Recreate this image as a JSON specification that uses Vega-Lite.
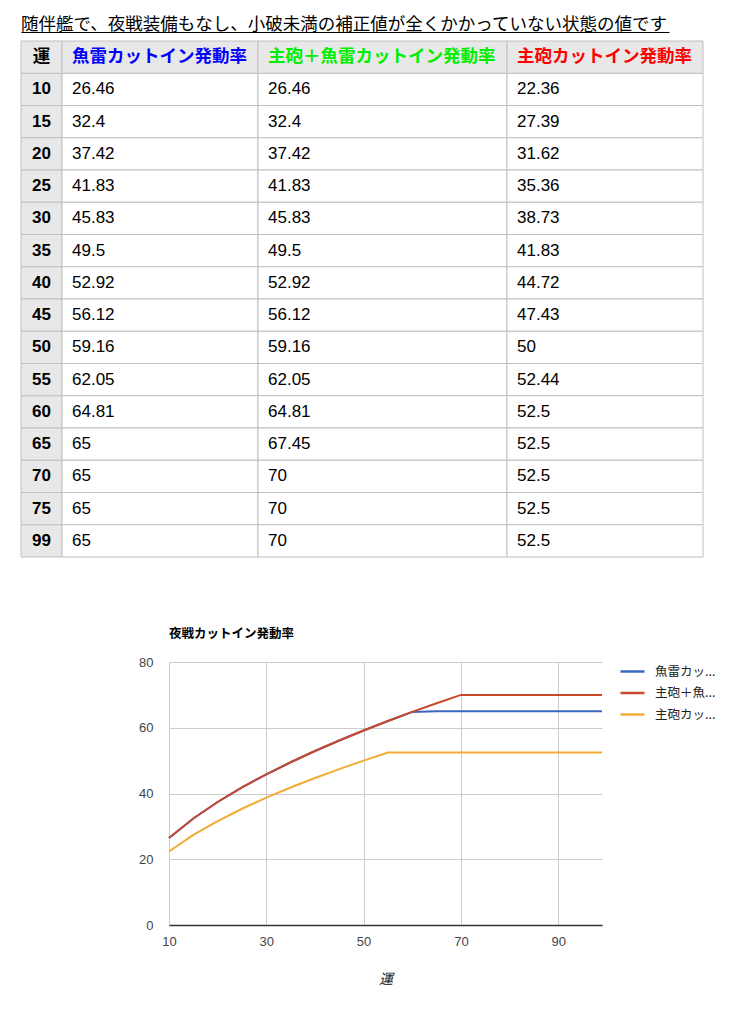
{
  "$schema": "https://vega.github.io/schema/vega-lite/v6.json",
  "background": "white",
  "padding": {"left": 20, "top": 12, "right": 0, "bottom": 0},
  "config": {"view": {"stroke": null}},
  "datasets": {
    "rates": [
      {"運": 10, "魚雷カットイン発動率": 26.46, "主砲＋魚雷カットイン発動率": 26.46, "主砲カットイン発動率": 22.36},
      {"運": 15, "魚雷カットイン発動率": 32.4, "主砲＋魚雷カットイン発動率": 32.4, "主砲カットイン発動率": 27.39},
      {"運": 20, "魚雷カットイン発動率": 37.42, "主砲＋魚雷カットイン発動率": 37.42, "主砲カットイン発動率": 31.62},
      {"運": 25, "魚雷カットイン発動率": 41.83, "主砲＋魚雷カットイン発動率": 41.83, "主砲カットイン発動率": 35.36},
      {"運": 30, "魚雷カットイン発動率": 45.83, "主砲＋魚雷カットイン発動率": 45.83, "主砲カットイン発動率": 38.73},
      {"運": 35, "魚雷カットイン発動率": 49.5, "主砲＋魚雷カットイン発動率": 49.5, "主砲カットイン発動率": 41.83},
      {"運": 40, "魚雷カットイン発動率": 52.92, "主砲＋魚雷カットイン発動率": 52.92, "主砲カットイン発動率": 44.72},
      {"運": 45, "魚雷カットイン発動率": 56.12, "主砲＋魚雷カットイン発動率": 56.12, "主砲カットイン発動率": 47.43},
      {"運": 50, "魚雷カットイン発動率": 59.16, "主砲＋魚雷カットイン発動率": 59.16, "主砲カットイン発動率": 50},
      {"運": 55, "魚雷カットイン発動率": 62.05, "主砲＋魚雷カットイン発動率": 62.05, "主砲カットイン発動率": 52.44},
      {"運": 60, "魚雷カットイン発動率": 64.81, "主砲＋魚雷カットイン発動率": 64.81, "主砲カットイン発動率": 52.5},
      {"運": 65, "魚雷カットイン発動率": 65, "主砲＋魚雷カットイン発動率": 67.45, "主砲カットイン発動率": 52.5},
      {"運": 70, "魚雷カットイン発動率": 65, "主砲＋魚雷カットイン発動率": 70, "主砲カットイン発動率": 52.5},
      {"運": 75, "魚雷カットイン発動率": 65, "主砲＋魚雷カットイン発動率": 70, "主砲カットイン発動率": 52.5},
      {"運": 99, "魚雷カットイン発動率": 65, "主砲＋魚雷カットイン発動率": 70, "主砲カットイン発動率": 52.5}
    ]
  },
  "spacing": 69,
  "resolve": {"scale": {"color": "independent"}, "legend": {"color": "independent"}},
  "vconcat": [
    {
      "spacing": 6,
      "vconcat": [
        {
          "width": 648,
          "height": 20,
          "data": {"values": [{"見出し": "随伴艦で、夜戦装備もなし、小破未満の補正値が全くかかっていない状態の値です"}]},
          "mark": {"type": "text", "align": "left", "baseline": "alphabetic", "dy": -2, "fontSize": 17.5, "font": "Noto Sans CJK JP", "color": "#000000"},
          "encoding": {
            "x": {"datum": 0, "type": "quantitative", "scale": {"domain": [0, 1]}, "axis": {"title": null, "labels": false, "ticks": false, "grid": false, "domainColor": "#000000", "domainWidth": 1}},
            "y": {"datum": 0, "type": "quantitative", "scale": {"domain": [0, 1]}, "axis": null},
            "text": {"field": "見出し", "type": "nominal"}
          }
        },
        {
          "spacing": 0,
          "bounds": "flush",
          "hconcat": [
            {
              "width": 41,
              "height": 516,
              "layer": [
                {"data": {"name": "rates"}, "mark": {"type": "rect", "fill": "#e8e8e8", "stroke": "#c0c0c0", "strokeWidth": 1},
                 "encoding": {"y": {"field": "運", "type": "ordinal", "scale": {"domain": ["運", 10, 15, 20, 25, 30, 35, 40, 45, 50, 55, 60, 65, 70, 75, 99], "paddingInner": 0, "paddingOuter": 0}, "axis": null},
                              "x": {"datum": 0, "type": "quantitative", "scale": {"domain": [0, 1]}, "axis": null}, "x2": {"datum": 1}}},
                {"data": {"name": "rates"}, "mark": {"type": "text", "align": "center", "fontSize": 17, "fontWeight": "bold", "font": "Liberation Sans", "color": "#000000"},
                 "encoding": {"y": {"field": "運", "type": "ordinal", "axis": null}, "x": {"datum": 0.5, "type": "quantitative", "axis": null}, "text": {"field": "運", "type": "nominal"}}},
                {"data": {"values": [{"見出し": "運"}]}, "mark": {"type": "rect", "fill": "#e8e8e8", "stroke": "#c0c0c0", "strokeWidth": 1},
                 "encoding": {"y": {"datum": "運", "type": "ordinal", "axis": null}, "x": {"datum": 0, "type": "quantitative", "axis": null}, "x2": {"datum": 1}}},
                {"data": {"values": [{"見出し": "運"}]}, "mark": {"type": "text", "align": "center", "fontSize": 17.5, "fontWeight": "bold", "font": "Noto Sans CJK JP", "color": "#000000"},
                 "encoding": {"y": {"datum": "運", "type": "ordinal", "axis": null}, "x": {"datum": 0.5, "type": "quantitative", "axis": null}, "text": {"field": "見出し", "type": "nominal"}}}
              ]
            },
            {
              "width": 196,
              "height": 516,
              "layer": [
                {"data": {"name": "rates"}, "mark": {"type": "rect", "fill": "#ffffff", "stroke": "#c0c0c0", "strokeWidth": 1},
                 "encoding": {"y": {"field": "運", "type": "ordinal", "scale": {"domain": ["運", 10, 15, 20, 25, 30, 35, 40, 45, 50, 55, 60, 65, 70, 75, 99], "paddingInner": 0, "paddingOuter": 0}, "axis": null},
                              "x": {"datum": 0, "type": "quantitative", "scale": {"domain": [0, 1]}, "axis": null}, "x2": {"datum": 1}}},
                {"data": {"name": "rates"}, "mark": {"type": "text", "align": "left", "dx": 10, "fontSize": 17, "font": "Liberation Sans", "color": "#000000"},
                 "encoding": {"y": {"field": "運", "type": "ordinal", "axis": null}, "x": {"datum": 0, "type": "quantitative", "axis": null}, "text": {"field": "魚雷カットイン発動率", "type": "nominal"}}},
                {"data": {"values": [{"見出し": "魚雷カットイン発動率"}]}, "mark": {"type": "rect", "fill": "#e8e8e8", "stroke": "#c0c0c0", "strokeWidth": 1},
                 "encoding": {"y": {"datum": "運", "type": "ordinal", "axis": null}, "x": {"datum": 0, "type": "quantitative", "axis": null}, "x2": {"datum": 1}}},
                {"data": {"values": [{"見出し": "魚雷カットイン発動率"}]}, "mark": {"type": "text", "align": "left", "dx": 10, "fontSize": 17.5, "fontWeight": "bold", "font": "Noto Sans CJK JP", "color": "#0000ff"},
                 "encoding": {"y": {"datum": "運", "type": "ordinal", "axis": null}, "x": {"datum": 0, "type": "quantitative", "axis": null}, "text": {"field": "見出し", "type": "nominal"}}}
              ]
            },
            {
              "width": 249,
              "height": 516,
              "layer": [
                {"data": {"name": "rates"}, "mark": {"type": "rect", "fill": "#ffffff", "stroke": "#c0c0c0", "strokeWidth": 1},
                 "encoding": {"y": {"field": "運", "type": "ordinal", "scale": {"domain": ["運", 10, 15, 20, 25, 30, 35, 40, 45, 50, 55, 60, 65, 70, 75, 99], "paddingInner": 0, "paddingOuter": 0}, "axis": null},
                              "x": {"datum": 0, "type": "quantitative", "scale": {"domain": [0, 1]}, "axis": null}, "x2": {"datum": 1}}},
                {"data": {"name": "rates"}, "mark": {"type": "text", "align": "left", "dx": 10, "fontSize": 17, "font": "Liberation Sans", "color": "#000000"},
                 "encoding": {"y": {"field": "運", "type": "ordinal", "axis": null}, "x": {"datum": 0, "type": "quantitative", "axis": null}, "text": {"field": "主砲＋魚雷カットイン発動率", "type": "nominal"}}},
                {"data": {"values": [{"見出し": "主砲＋魚雷カットイン発動率"}]}, "mark": {"type": "rect", "fill": "#e8e8e8", "stroke": "#c0c0c0", "strokeWidth": 1},
                 "encoding": {"y": {"datum": "運", "type": "ordinal", "axis": null}, "x": {"datum": 0, "type": "quantitative", "axis": null}, "x2": {"datum": 1}}},
                {"data": {"values": [{"見出し": "主砲＋魚雷カットイン発動率"}]}, "mark": {"type": "text", "align": "left", "dx": 10, "fontSize": 17.5, "fontWeight": "bold", "font": "Noto Sans CJK JP", "color": "#00ee00"},
                 "encoding": {"y": {"datum": "運", "type": "ordinal", "axis": null}, "x": {"datum": 0, "type": "quantitative", "axis": null}, "text": {"field": "見出し", "type": "nominal"}}}
              ]
            },
            {
              "width": 196,
              "height": 516,
              "layer": [
                {"data": {"name": "rates"}, "mark": {"type": "rect", "fill": "#ffffff", "stroke": "#c0c0c0", "strokeWidth": 1},
                 "encoding": {"y": {"field": "運", "type": "ordinal", "scale": {"domain": ["運", 10, 15, 20, 25, 30, 35, 40, 45, 50, 55, 60, 65, 70, 75, 99], "paddingInner": 0, "paddingOuter": 0}, "axis": null},
                              "x": {"datum": 0, "type": "quantitative", "scale": {"domain": [0, 1]}, "axis": null}, "x2": {"datum": 1}}},
                {"data": {"name": "rates"}, "mark": {"type": "text", "align": "left", "dx": 10, "fontSize": 17, "font": "Liberation Sans", "color": "#000000"},
                 "encoding": {"y": {"field": "運", "type": "ordinal", "axis": null}, "x": {"datum": 0, "type": "quantitative", "axis": null}, "text": {"field": "主砲カットイン発動率", "type": "nominal"}}},
                {"data": {"values": [{"見出し": "主砲カットイン発動率"}]}, "mark": {"type": "rect", "fill": "#e8e8e8", "stroke": "#c0c0c0", "strokeWidth": 1},
                 "encoding": {"y": {"datum": "運", "type": "ordinal", "axis": null}, "x": {"datum": 0, "type": "quantitative", "axis": null}, "x2": {"datum": 1}}},
                {"data": {"values": [{"見出し": "主砲カットイン発動率"}]}, "mark": {"type": "text", "align": "left", "dx": 10, "fontSize": 17.5, "fontWeight": "bold", "font": "Noto Sans CJK JP", "color": "#ff0000"},
                 "encoding": {"y": {"datum": "運", "type": "ordinal", "axis": null}, "x": {"datum": 0, "type": "quantitative", "axis": null}, "text": {"field": "見出し", "type": "nominal"}}}
              ]
            }
          ]
        }
      ]
    },
    {
      "spacing": 0,
      "resolve": {"scale": {"color": "independent"}, "legend": {"color": "independent"}},
      "hconcat": [
        {
          "width": 117,
          "height": 1,
          "data": {"values": []},
          "mark": {"type": "text"}
        },
        {
          "width": 433,
          "height": 263,
          "data": {"name": "rates"},
          "transform": [{"fold": ["魚雷カットイン発動率", "主砲＋魚雷カットイン発動率", "主砲カットイン発動率"], "as": ["系列", "発動率"]}],
          "title": {"text": "夜戦カットイン発動率", "anchor": "start", "frame": "group", "fontSize": 12.5, "fontWeight": "bold", "font": "Noto Sans CJK JP", "color": "#000000", "offset": 16},
          "mark": {"type": "line", "strokeWidth": 2},
          "encoding": {
            "x": {"field": "運", "type": "quantitative", "scale": {"domain": [10, 99], "nice": false, "zero": false},
                  "axis": {"values": [10, 30, 50, 70, 90], "title": "運", "titleFont": "Noto Sans CJK JP", "titleFontStyle": "italic", "titleFontWeight": "normal", "titleFontSize": 14, "titleColor": "#222222", "titlePadding": 24,
                           "labelFont": "Liberation Sans", "labelFontSize": 13, "labelColor": "#444444", "labelPadding": 10, "labelFlush": false, "ticks": false,
                           "domainColor": "#333333", "domainWidth": 1.5, "grid": true, "gridColor": "#cccccc"}},
            "y": {"field": "発動率", "type": "quantitative", "scale": {"domain": [0, 80], "nice": false},
                  "axis": {"values": [0, 20, 40, 60, 80], "domain": false, "ticks": false, "labelPadding": 16, "labelFlush": false, "title": null,
                           "labelFont": "Liberation Sans", "labelFontSize": 13, "labelColor": "#444444", "grid": true, "gridColor": "#cccccc"}},
            "color": {"field": "系列", "type": "nominal",
                      "scale": {"domain": ["魚雷カットイン発動率", "主砲＋魚雷カットイン発動率", "主砲カットイン発動率"], "range": ["#3a66c4", "#c9472b", "#f2ac36"]},
                      "legend": {"title": null, "orient": "none", "legendX": 450, "legendY": -4, "padding": 0, "rowPadding": 1.5, "symbolType": "stroke", "symbolSize": 576, "symbolStrokeWidth": 2.5,
                                 "labelExpr": "substring(datum.label, 0, 4) + '...'", "labelFont": "Noto Sans CJK JP", "labelFontSize": 12.5, "labelColor": "#222222", "labelOffset": 9}}
          }
        }
      ]
    }
  ]
}
